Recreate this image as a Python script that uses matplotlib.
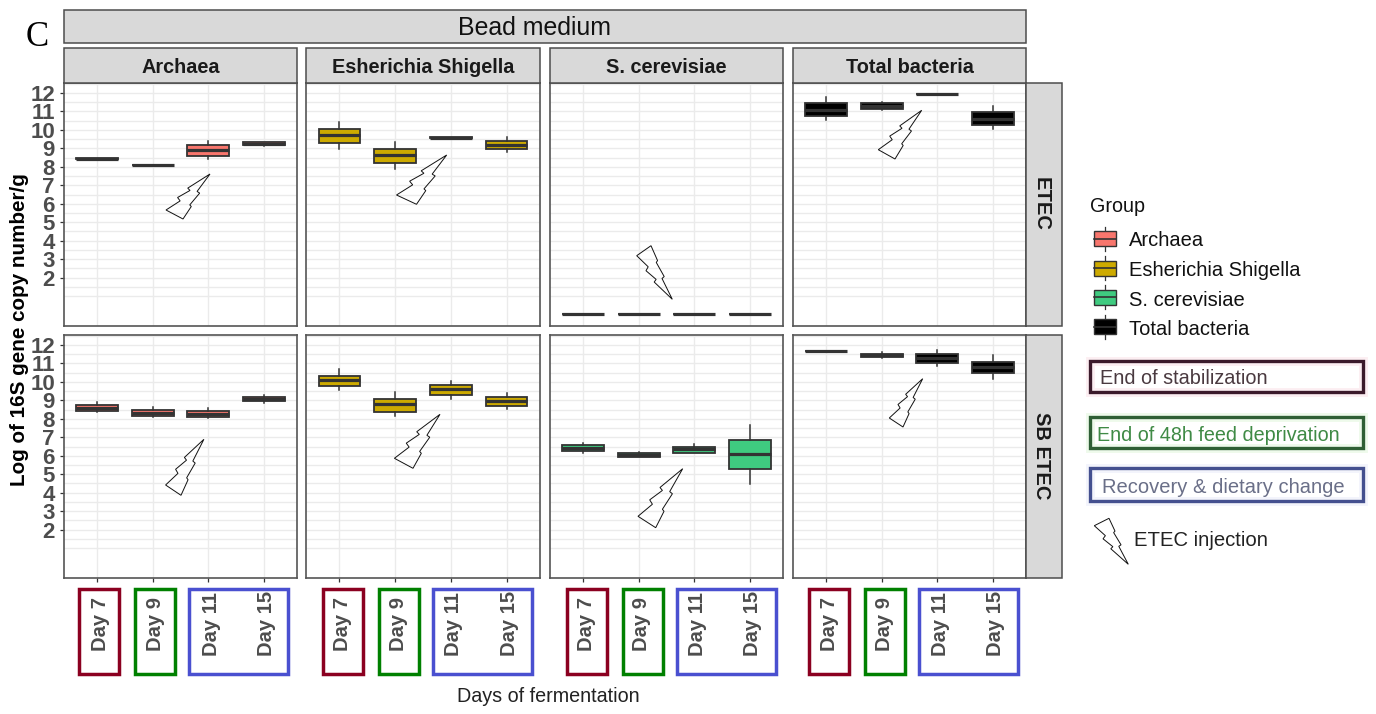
import numpy as np
import matplotlib
matplotlib.use("Agg")
import matplotlib.pyplot as plt
from matplotlib.patches import Rectangle, Polygon
from matplotlib.transforms import ScaledTranslation

plt.rcParams["font.family"] = ["Liberation Sans", "DejaVu Sans"]

W, H = 1376, 714

days = ["Day 7", "Day 9", "Day 11", "Day 15"]
groups = ["Archaea", "Esherichia Shigella", "S. cerevisiae", "Total bacteria"]
rows = ["ETEC", "SB ETEC"]
yticks = [2, 3, 4, 5, 6, 7, 8, 9, 10, 11, 12]
group_colors = ["#F8766D", "#CDAA00", "#3FCB80", "#000000"]

# whisker low, q1, median, q3, whisker high for day 7, 9, 11, 15
archaea_etec = [(8.44, 8.44, 8.45, 8.46, 8.46), (8.09, 8.09, 8.1, 8.11, 8.11),
                (8.4, 8.6, 8.9, 9.2, 9.4), (9.12, 9.17, 9.25, 9.33, 9.37)]
escher_etec = [(8.95, 9.3, 9.7, 10.07, 10.43), (7.9, 8.2, 8.66, 8.97, 9.35),
               (9.55, 9.56, 9.58, 9.6, 9.61), (8.8, 8.95, 9.2, 9.4, 9.62)]
scer_etec = [(0.02, 0.02, 0.03, 0.04, 0.04), (0.02, 0.02, 0.03, 0.04, 0.04),
             (0.02, 0.02, 0.03, 0.04, 0.04), (0.02, 0.02, 0.03, 0.04, 0.04)]
total_etec = [(10.54, 10.75, 11.1, 11.44, 11.77), (11.1, 11.15, 11.3, 11.44, 11.5),
              (11.91, 11.92, 11.93, 11.94, 11.95), (10.05, 10.27, 10.61, 10.95, 11.3)]
archaea_sb = [(8.36, 8.45, 8.58, 8.77, 8.9), (8.09, 8.18, 8.3, 8.49, 8.63),
              (8.02, 8.11, 8.27, 8.42, 8.56), (8.85, 8.94, 9.06, 9.17, 9.31)]
escher_sb = [(9.55, 9.78, 10.11, 10.34, 10.68), (8.16, 8.39, 8.81, 9.1, 9.46),
             (9.06, 9.3, 9.62, 9.85, 10.07), (8.52, 8.67, 8.96, 9.17, 9.39)]
scer_sb = [(6.15, 6.24, 6.44, 6.57, 6.69), (5.93, 5.95, 6.05, 6.14, 6.22),
           (6.13, 6.17, 6.37, 6.5, 6.63), (4.49, 5.29, 6.08, 6.87, 7.65)]
total_sb = [(11.66, 11.67, 11.68, 11.69, 11.7), (11.32, 11.35, 11.44, 11.53, 11.6),
            (10.85, 11.01, 11.28, 11.53, 11.75), (10.18, 10.47, 10.81, 11.1, 11.46)]
table = [[archaea_etec, escher_etec, scer_etec, total_etec],
         [archaea_sb, escher_sb, scer_sb, total_sb]]

col_x = [(64, 297), (306, 540), (550, 783), (793, 1026)]
row_y = [(83, 326), (335, 578)]

# lightning outline, tip first, in pixels
bolt_shape = np.array([(0, 0), (-22.7, 14), (-20.3, 16.3), (-33, 23.3), (-30.3, 26.7),
                       (-44.7, 35.7), (-27, 44.7), (-18.7, 32.3), (-20.3, 30.7),
                       (-10.3, 19), (-13, 17.3)])
# tip, left corner, bottom corner of each bolt in the picture
bolts = [((210, 174), (166, 210), (183, 219)),
         ((446.7, 155), (396.5, 195), (416.5, 204.3)),
         ((672.3, 299.3), (636.7, 255.7), (651, 245.7)),
         ((921.7, 110.3), (878.3, 149.7), (895, 159)),
         ((203.9, 439.3), (165.6, 485), (181, 495.3)),
         ((440, 414.3), (394.4, 458.3), (413, 468.3)),
         ((682.7, 468.7), (638, 516.3), (655.7, 527.7)),
         ((922.7, 378.7), (889.3, 418), (903, 427)),
         ((1128.3, 564.3), (1094.3, 525.7), (1109, 518.3))]


def add_panel(x0, x1, y0, y1):
    return fig.add_axes([x0 / W, 1 - y1 / H, (x1 - x0) / W, (y1 - y0) / H])


def draw_bolt(tip, left, bottom):
    tip = np.array(tip)
    base = np.array([bolt_shape[5], bolt_shape[6]]).T
    target = np.array([np.array(left) - tip, np.array(bottom) - tip]).T
    m = target @ np.linalg.inv(base)
    pts = (m @ bolt_shape.T).T + tip
    over.add_patch(Polygon(pts, closed=True, fill=False, ec="#111111", lw=0.7))


def strip(x0, y0, x1, y1):
    over.add_patch(Rectangle((x0, y0), x1 - x0, y1 - y0, fc="#D9D9D9", ec="#4D4D4D", lw=1.1))


def box(x0, y0, x1, y1, color, lw=2.5, glow=None):
    if glow:
        over.add_patch(Rectangle((x0, y0), x1 - x0, y1 - y0, fill=False, ec=glow, lw=lw + 4, alpha=0.3))
    over.add_patch(Rectangle((x0, y0), x1 - x0, y1 - y0, fill=False, ec=color, lw=lw))


fig = plt.figure(figsize=(W / 100, H / 100), dpi=100)
over = fig.add_axes([0, 0, 1, 1], zorder=5)
over.set_xlim(0, W)
over.set_ylim(H, 0)
over.axis("off")

positions = [1, 2, 3, 4]
for r in range(2):
    for c in range(4):
        ax = add_panel(col_x[c][0], col_x[c][1], row_y[r][0], row_y[r][1])
        stats = [dict(whislo=s[0], q1=s[1], med=s[2], q3=s[3], whishi=s[4], fliers=[]) for s in table[r][c]]
        res = ax.bxp(stats, positions=positions, widths=0.75, patch_artist=True, showcaps=False,
                     showfliers=False, manage_ticks=False,
                     boxprops=dict(edgecolor="#333333", linewidth=1.3),
                     medianprops=dict(color="#333333", linewidth=2.3, solid_capstyle="butt"),
                     whiskerprops=dict(color="#333333", linewidth=1.1))
        for b in res["boxes"]:
            b.set_facecolor(group_colors[c])
        ax.set_xlim(0.4, 4.6)
        ax.set_ylim(-0.62, 12.54)
        ax.set_axisbelow(True)
        ax.set_xticks(positions)
        ax.set_yticks(yticks)
        ax.set_yticks([1, 1.5, 2.5, 3.5, 4.5, 5.5, 6.5, 7.5, 8.5, 9.5, 10.5, 11.5, 12.5], minor=True)
        ax.grid(True, which="both", color="#EBEBEB", lw=1.0)
        ax.tick_params(which="minor", length=0)
        ax.tick_params(axis="both", which="major", color="#333333", length=3, width=0.9)
        for s in ax.spines.values():
            s.set_color("#555555")
            s.set_linewidth(1.2)
        if r == 1:
            ax.tick_params(axis="x", pad=30)
            ax.set_xticklabels(days, rotation=90, fontsize=14.5, fontweight="bold", color="#4D4D4D", va="center")
            for lab in ax.get_xticklabels():
                lab.set_transform(lab.get_transform() + ScaledTranslation(3 / 100, 0, fig.dpi_scale_trans))
        else:
            ax.tick_params(axis="x", length=0, labelbottom=False)
        if c == 0:
            ax.tick_params(axis="y", pad=3.5)
            ax.set_yticklabels([str(t) for t in yticks], fontsize=16, fontweight="bold", color="#4D4D4D")
        else:
            ax.tick_params(axis="y", length=0, labelleft=False)

# strips
strip(64, 10, 1026, 43)
over.text(535, 28, "Bead medium", fontsize=17.9, ha="center", va="center", color="#111111")
for c in range(4):
    strip(col_x[c][0], 48, col_x[c][1], 83)
    over.text(sum(col_x[c]) / 2, 67.5, groups[c], fontsize=14.3, fontweight="bold", ha="center", va="center",
              color="#1A1A1A")
for r in range(2):
    strip(1026, row_y[r][0], 1062, row_y[r][1])
    over.text(1041, sum(row_y[r]) / 2 - 0.5, rows[r], fontsize=14.5, fontweight="bold", rotation=270,
              ha="center", va="center", color="#1A1A1A")

over.text(37, 37, "C", fontsize=25, family="Liberation Serif", ha="center", va="center", color="black")
over.text(20, 330, "Log of 16S gene copy number/g", fontsize=14.9, fontweight="bold", rotation=90,
          ha="center", va="center", color="black")
over.text(548, 696, "Days of fermentation", fontsize=14.2, ha="center", va="center", color="#222222")

# coloured boxes around the day labels
for off in [0, 244, 488, 730]:
    box(79 + off, 589, 118.5 + off, 674, "#8B0020")
    box(135 + off, 589, 174.5 + off, 674, "#008000")
    box(189 + off, 589, 287.5 + off, 674, "#4A50D0")

# legend
over.text(1090, 206, "Group", fontsize=14.2, ha="left", va="center", color="#111111")
legend_y = [238.5, 268, 297, 326.5]
legend_text_y = [240.5, 270.5, 300, 329.5]
for y, ty, name, col in zip(legend_y, legend_text_y, groups, group_colors):
    over.plot([1104.5, 1104.5], [y - 12, y + 12], color="#333333", lw=0.9)
    over.add_patch(Rectangle((1093.5, y - 7.5), 22.5, 15, fc=col, ec="#333333", lw=1.0, zorder=3))
    over.plot([1093.5, 1116], [y, y], color="#333333", lw=1.2, zorder=4)
    over.text(1129, ty, name, fontsize=14.5, ha="left", va="center", color="#111111")

box(1090, 361, 1363, 391.5, "#3B1A2B", lw=2.4, glow="#F6C8D4")
over.text(1100, 379, "End of stabilization", fontsize=14.3, ha="left", va="center", color="#4A3A40")
box(1090, 417, 1363, 448, "#2F5F35", lw=2.4, glow="#C8F0C0")
over.text(1097, 435.5, "End of 48h feed deprivation", fontsize=14.25, ha="left", va="center", color="#3F8A45")
box(1090, 468, 1363, 500.5, "#44508F", lw=2.4, glow="#D8DCF5")
over.text(1102, 487.5, "Recovery & dietary change", fontsize=14.5, ha="left", va="center", color="#6A6F88")
over.text(1134, 541, "ETEC injection", fontsize=14.6, ha="left", va="center", color="#222222")

for tip, left, bottom in bolts:
    draw_bolt(tip, left, bottom)

fig.savefig("out.png", dpi=100)
